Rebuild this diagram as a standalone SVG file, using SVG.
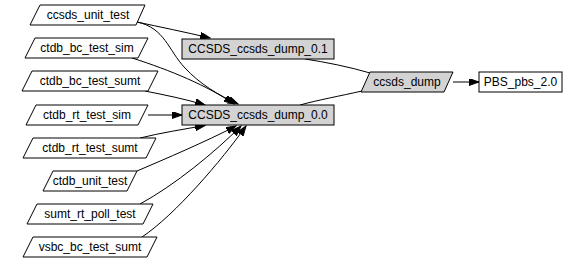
<svg xmlns="http://www.w3.org/2000/svg" width="577" height="264" viewBox="0 0 577 264">
<style>
.n{fill:#ffffff;stroke:#000;stroke-width:1}
.g{fill:#d3d3d3;stroke:#000;stroke-width:1}
.e{fill:none;stroke:#000;stroke-width:1}
text{font-family:"Liberation Sans",Arial,sans-serif;font-size:12px;fill:#000;text-anchor:middle}
</style>
<defs>
<marker id="ah" markerUnits="userSpaceOnUse" markerWidth="11" markerHeight="8" refX="10" refY="3.5" orient="auto">
<path d="M0,0 L10,3.5 L0,7 z" fill="#000" stroke="#000" stroke-width="1"/>
</marker>
</defs>
<rect width="577" height="264" fill="#fff"/>
<g id="connectors">
<path class="e" marker-end="url(#ah)" d="M137,22 C160,27 185,32 210,38"/>
<path class="e" marker-end="url(#ah)" d="M137,22 C165,28 168,50 185,68 C200,84 218,95 238,104"/>
<path class="e" marker-end="url(#ah)" d="M132,58 C170,70 208,86 234,104"/>
<path class="e" marker-end="url(#ah)" d="M145,91 C165,95 185,99 205,105"/>
<path class="e" marker-end="url(#ah)" d="M148,115 L182,115"/>
<path class="e" marker-end="url(#ah)" d="M140,138 C160,133 185,129 205,125.5"/>
<path class="e" marker-end="url(#ah)" d="M137,171 C165,159 205,142 236,126"/>
<path class="e" marker-end="url(#ah)" d="M140,204 C175,185 215,152 241,126"/>
<path class="e" marker-end="url(#ah)" d="M142,237 C175,215 222,160 246,126"/>
<path class="e" d="M305,59 C325,62 350,67 370,73"/>
<path class="e" d="M300,105 C318,100 340,96 362,91"/>
<path class="e" marker-end="url(#ah)" d="M453,82 L479,82"/>
</g>
<g id="ccsds_unit_test"><polygon class="n" points="40,5 145,5 136,25 30,25"/><text x="88" y="19">ccsds_unit_test</text></g>
<g id="ctdb_bc_test_sim"><polygon class="n" points="35,38 148,38 138,58 25,58"/><text x="87" y="52">ctdb_bc_test_sim</text></g>
<g id="ctdb_bc_test_sumt"><polygon class="n" points="32,71 158,71 148,91 22,91"/><text x="90" y="85">ctdb_bc_test_sumt</text></g>
<g id="ctdb_rt_test_sim"><polygon class="n" points="36,105 148,105 138,125 26,125"/><text x="87" y="119">ctdb_rt_test_sim</text></g>
<g id="ctdb_rt_test_sumt"><polygon class="n" points="33,138 156,138 146,158 23,158"/><text x="90" y="152">ctdb_rt_test_sumt</text></g>
<g id="ctdb_unit_test"><polygon class="n" points="53,171 137,171 127,191 43,191"/><text x="90" y="185">ctdb_unit_test</text></g>
<g id="sumt_rt_poll_test"><polygon class="n" points="37,204 153,204 143,224 27,224"/><text x="90" y="218">sumt_rt_poll_test</text></g>
<g id="vsbc_bc_test_sumt"><polygon class="n" points="33,237 157,237 147,257 23,257"/><text x="90" y="251">vsbc_bc_test_sumt</text></g>
<g id="CCSDS_ccsds_dump_0.1"><rect class="g" x="182" y="39" width="152" height="20"/><text x="258" y="53">CCSDS_ccsds_dump_0.1</text></g>
<g id="CCSDS_ccsds_dump_0.0"><rect class="g" x="182" y="105" width="152" height="20"/><text x="258" y="119">CCSDS_ccsds_dump_0.0</text></g>
<g id="ccsds_dump"><polygon class="g" points="370,72 453,72 444,92 361,92"/><text x="407" y="86">ccsds_dump</text></g>
<g id="PBS_pbs_2.0"><rect class="n" x="479" y="72" width="83" height="20"/><text x="520.5" y="86">PBS_pbs_2.0</text></g>
</svg>
